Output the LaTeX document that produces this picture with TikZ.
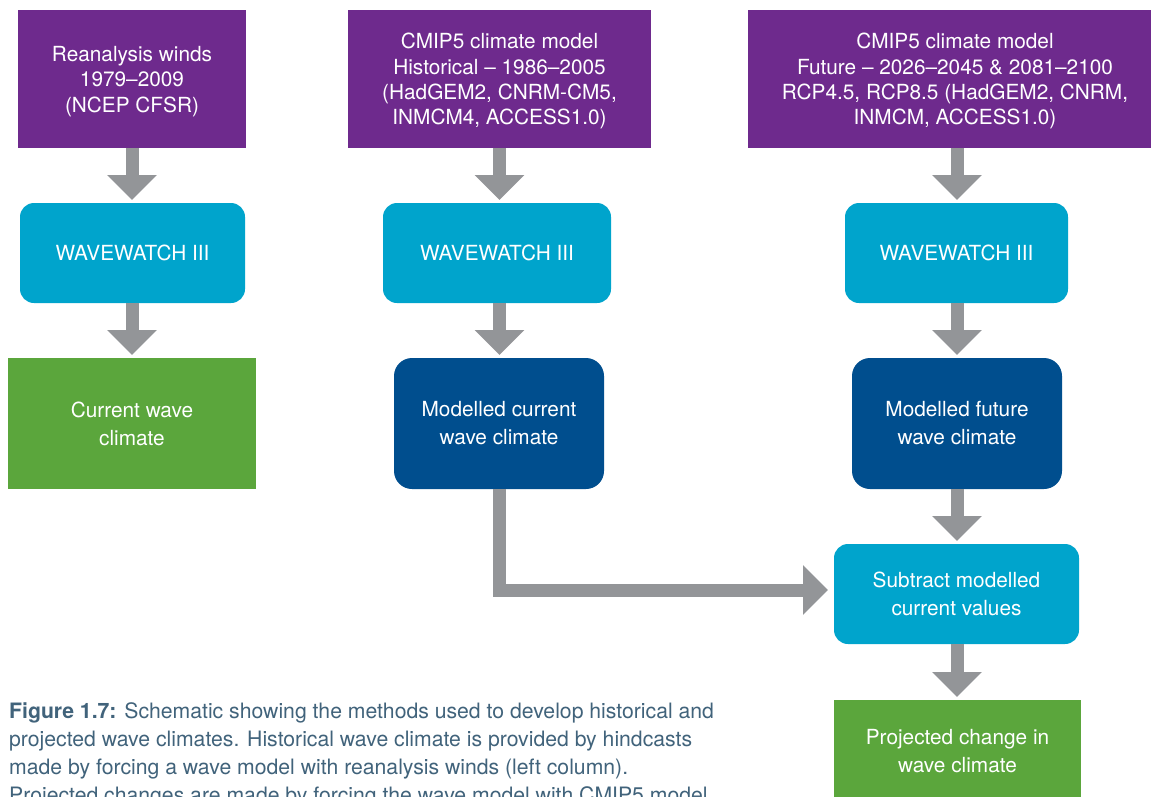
\documentclass[tikz,border=0pt]{standalone}
\usepackage{fontspec}
\setmainfont{TeX Gyre Heros}
\usetikzlibrary{arrows.meta}
\definecolor{cpurple}{HTML}{6E2A8D}
\definecolor{ccyan}{HTML}{00A4CC}
\definecolor{cdark}{HTML}{004E8E}
\definecolor{cgreen}{HTML}{5BA63C}
\definecolor{cgray}{HTML}{939598}
\definecolor{ccap}{HTML}{41637B}
\newcommand{\downstrut}{\rule{0pt}{20pt}}
\tikzset{
  basebox/.style={inner sep=0pt, outer sep=0pt, text=white, align=center,
    font=\fontsize{20.8}{28}\selectfont},
  purplebox/.style={basebox, fill=cpurple, minimum height=138pt,
    font=\fontsize{20.8}{25.3}\selectfont},
  cyanbox/.style={basebox, fill=ccyan, rounded corners=14pt, minimum height=100pt},
  darkbox/.style={basebox, fill=cdark, rounded corners=18pt, minimum width=210pt, minimum height=131pt},
  greenbox/.style={basebox, fill=cgreen},
  fatarrow/.style={draw=cgray, line width=13pt, line join=miter,
    -{Triangle[width=48pt,length=25pt]}, shorten >=3pt},
}
\begin{document}
\begin{tikzpicture}[x=1pt,y=-1pt]
\clip (0,0) rectangle (1151,796);
\fill[white] (0,0) rectangle (1151,796);
% top row
\node[purplebox, minimum width=228pt] (p1) at (132,79) {\downstrut Reanalysis winds\\1979--2009\\(NCEP CFSR)};
\node[purplebox, minimum width=303pt] (p2) at (499.5,79) {\downstrut CMIP5 climate model\\Historical -- 1986--2005\\(HadGEM2, CNRM-CM5,\\INMCM4, ACCESS1.0)};
\node[purplebox, minimum width=414pt] (p3) at (955,79) {\downstrut CMIP5 climate model\\Future -- 2026--2045 \& 2081--2100\\RCP4.5, RCP8.5 (HadGEM2, CNRM,\\INMCM, ACCESS1.0)};
% wavewatch
\node[cyanbox, minimum width=225pt] (w1) at (132.5,253) {WAVEWATCH III};
\node[cyanbox, minimum width=228pt] (w2) at (497,253) {WAVEWATCH III};
\node[cyanbox, minimum width=223pt] (w3) at (956.5,253) {WAVEWATCH III};
% results
\node[greenbox, minimum width=248pt, minimum height=131pt] (g1) at (132,423.5) {Current wave\\climate};
\node[darkbox] (d2) at (499,423.5) {Modelled current\\wave climate};
\node[darkbox] (d3) at (957,423.5) {Modelled future\\wave climate};
\node[cyanbox, minimum width=245pt] (s) at (956.5,594) {Subtract modelled\\current values};
\node[greenbox, minimum width=247pt, minimum height=130pt] (g2) at (957.5,765) {};
\node[basebox] (g2t) at (957.5,751) {Projected change in\\wave climate};
% arrows
\draw[fatarrow] (p1.south) -- (w1.north -| p1.south);
\draw[fatarrow] (w1.south -| p1.south) -- (g1.north);
\draw[fatarrow] (p2.south) -- (w2.north -| p2.south);
\draw[fatarrow] (w2.south -| p2.south) -- (d2.north -| p2.south);
\draw[fatarrow] (p3.south -| d3.south) -- (w3.north -| d3.south);
\draw[fatarrow] (w3.south -| d3.south) -- (d3.north);
\draw[fatarrow] (d3.south) -- (s.north -| d3.south);
\draw[fatarrow] (s.south -| d3.south) -- (g2.north -| d3.south);
\draw[fatarrow, shorten >=6pt] (d2.south) |- ([yshift=4pt]s.west);
% caption
\node[anchor=base west, inner sep=0pt, align=left, text=ccap,
  font=\fontsize{21.2}{28}\selectfont] (cap) at (9,802)
  {\textbf{Figure 1.7:} Schematic showing the methods used to develop historical and\\
   projected wave climates. Historical wave climate is provided by hindcasts\\
   made by forcing a wave model with reanalysis winds (left column).\\
   Projected changes are made by forcing the wave model with CMIP5 model};
\end{tikzpicture}
\end{document}
